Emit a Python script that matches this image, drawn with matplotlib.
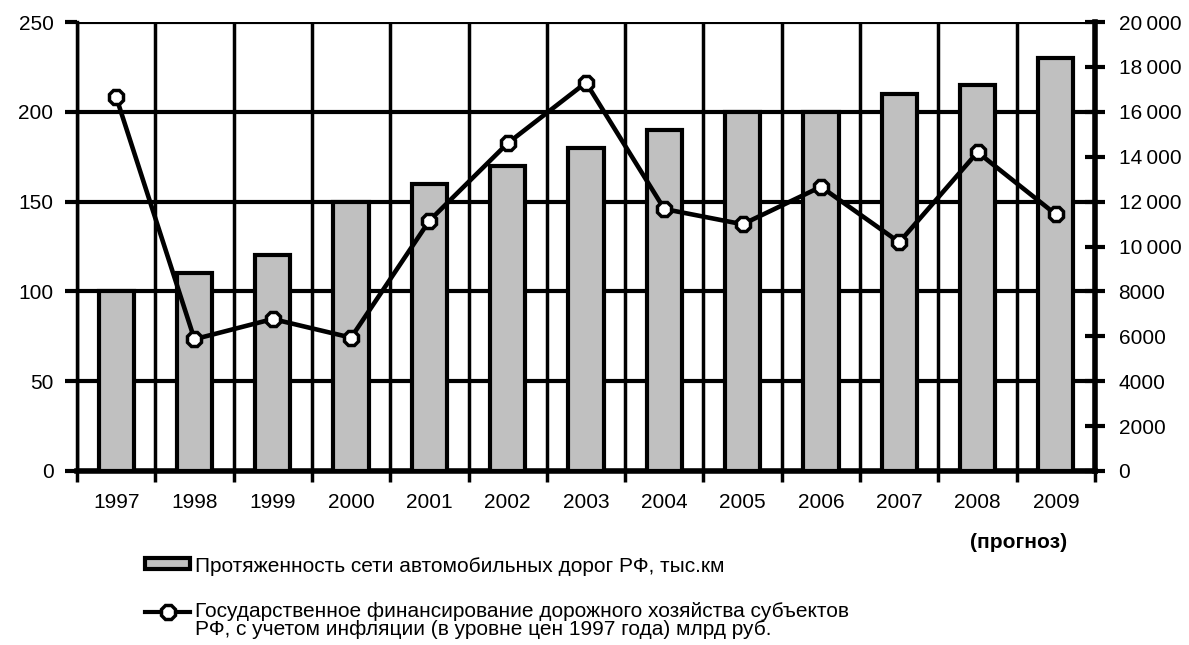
import matplotlib
matplotlib.use("Agg")
import matplotlib.pyplot as plt
from matplotlib.patches import Rectangle
from matplotlib.lines import Line2D
import numpy as np

plt.rcParams['font.family'] = ['Liberation Sans', 'DejaVu Sans']

years = ['1997', '1998', '1999', '2000', '2001', '2002', '2003',
         '2004', '2005', '2006', '2007', '2008', '2009']
road_length = [100, 110, 120, 150, 160, 170, 180, 190, 200, 200, 210, 215, 230]
financing = [16660, 5870, 6770, 5940, 11150, 14600, 17300,
             11670, 10990, 12660, 10190, 14200, 11430]
left_ticks = [0, 50, 100, 150, 200, 250]
right_ticks = [0, 2000, 4000, 6000, 8000, 10000, 12000, 14000, 16000, 18000, 20000]
right_labels = ['0', '2000', '4000', '6000', '8000', '10\u2009000', '12\u2009000',
                '14\u2009000', '16\u2009000', '18\u2009000', '20\u2009000']
bar_label = 'Протяженность сети автомобильных дорог РФ, тыс.км'
line_label = ('Государственное финансирование дорожного хозяйства субъектов\n'
              'РФ, с учетом инфляции (в уровне цен 1997 года) млрд руб.')
note = '(прогноз)'

W, H = 1189, 645
fig = plt.figure(figsize=(W / 100, H / 100), dpi=100)
L, R, T, B = 77, 1095, 22, 471
ax = fig.add_axes([L / W, 1 - B / H, (R - L) / W, (B - T) / H])

x = np.arange(len(years))
FS = 15

ax.bar(x, road_length, width=0.45, color='#c0c0c0', edgecolor='black',
       linewidth=3, zorder=3)
ax.set_xlim(-0.5, len(years) - 0.5)
ax.set_ylim(0, 250)
ax.set_yticks(left_ticks)
ax.set_yticklabels([str(v) for v in left_ticks], fontsize=FS)
ax.set_xticks(x)
ax.set_xticklabels(years, fontsize=FS)
ax.set_xticks(np.arange(-0.5, len(years)), minor=True)
ax.tick_params(axis='x', which='major', length=0, pad=16)
ax.tick_params(axis='x', which='minor', length=8, width=2.5, direction='out')
ax.tick_params(axis='y', length=9, width=3, direction='out', pad=8)
ax.grid(True, axis='y', which='major', color='black', linewidth=3, zorder=0)
ax.grid(True, axis='x', which='minor', color='black', linewidth=2.5, zorder=0)
ax.set_axisbelow(True)
ax.spines['top'].set_visible(False)
ax.spines['bottom'].set_linewidth(4)
ax.spines['left'].set_linewidth(2.5)
ax.spines['right'].set_visible(False)

ax2 = ax.twinx()
ax2.plot(x, financing, color='black', linewidth=3.3, marker='8', markersize=11,
         markerfacecolor='white', markeredgecolor='black', markeredgewidth=2.5,
         zorder=5)
ax2.set_ylim(0, 20000)
ax2.set_yticks(right_ticks)
ax2.set_yticklabels(right_labels, fontsize=FS)
ax2.tick_params(axis='y', length=14, width=3, direction='inout', pad=10)
for s in ['top', 'left', 'bottom']:
    ax2.spines[s].set_visible(False)
ax2.spines['right'].set_linewidth(4)

# note
fig.text(1019 / W, 1 - 543 / H, note, fontsize=FS, fontweight='bold',
         ha='center', va='center')

# legend (manual)
fig.add_artist(Rectangle((145 / W, 1 - 569 / H), 45 / W, 11 / H,
                         transform=fig.transFigure, facecolor='#c0c0c0',
                         edgecolor='black', linewidth=3))
fig.text(195 / W, 1 - 566 / H, bar_label, fontsize=FS, ha='left', va='center')
fig.add_artist(Line2D([145 / W, 190 / W], [1 - 612 / H, 1 - 612 / H],
                      transform=fig.transFigure, color='black', linewidth=3))
fig.add_artist(Line2D([167.5 / W], [1 - 612 / H], transform=fig.transFigure,
                      marker='8', markersize=11, markerfacecolor='white',
                      markeredgecolor='black', markeredgewidth=2.5, color='black'))
fig.text(195 / W, 1 - 602 / H, line_label, fontsize=FS, ha='left', va='top',
         linespacing=0.95)

fig.savefig('out.png', dpi=100)
